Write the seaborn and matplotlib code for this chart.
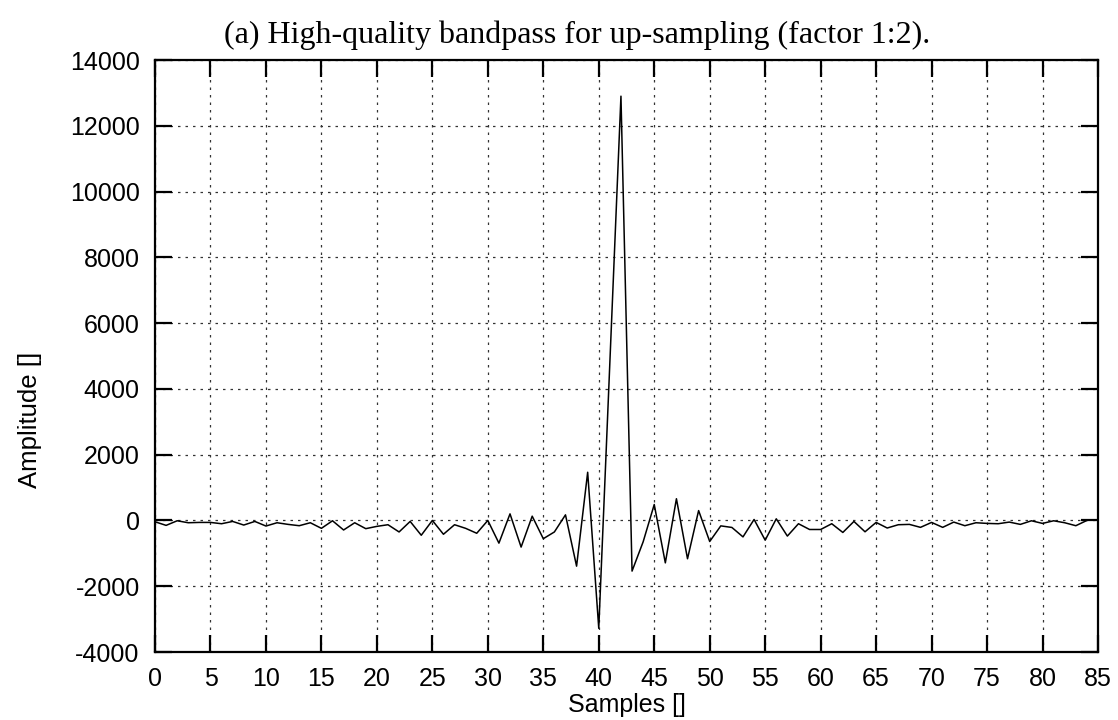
import matplotlib
matplotlib.use("Agg")
import matplotlib.pyplot as plt
import seaborn as sns
import numpy as np
import pandas as pd

samples = list(range(85))
amplitude = [-40, -150, -10, -70, -60, -60, -100, -30, -140, -30,
             -170, -70, -120, -160, -70, -240, -10, -290, -70, -250,
             -180, -130, -350, -30, -450, 0, -420, -130, -240, -390,
             0, -690, 200, -810, 130, -555, -350, 170, -1390, 1465,
             -3280, 4800, 12900, -1540, -650, 485, -1290, 660, -1165, 300,
             -640, -165, -213, -500, 30, -600, 50, -475, -100, -275,
             -275, -100, -365, -30, -345, -60, -230, -130, -120, -210,
             -60, -210, -50, -160, -70, -90, -100, -50, -120, -10,
             -90, -10, -70, -160, 0]
x_ticks = list(range(0, 90, 5))
y_ticks = list(range(-4000, 14001, 2000))
title = "(a) High-quality bandpass for up-sampling (factor 1:2)."
xlabel = "Samples []"
ylabel = "Amplitude []"

sns.set_style("white")
plt.rcParams['font.family'] = ['Liberation Sans', 'DejaVu Sans']
plt.rcParams['axes.unicode_minus'] = False
plt.rcParams['text.color'] = 'black'
plt.rcParams['axes.labelcolor'] = 'black'
plt.rcParams['xtick.color'] = 'black'
plt.rcParams['ytick.color'] = 'black'

df = pd.DataFrame({"x": samples, "y": amplitude})

fig = plt.figure(figsize=(11.18, 7.2), dpi=100)
ax = fig.add_axes([155/1118, 1-652/720, (1098-155)/1118, (652-60)/720])

sns.lineplot(data=df, x="x", y="y", ax=ax, color="black", linewidth=1.1)

ax.set_xlim(0, 85)
ax.set_ylim(-4000, 14000)
ax.set_xticks(x_ticks)
ax.set_yticks(y_ticks)
ax.grid(True, color="#333333", linestyle=(0, (2, 4)), linewidth=0.9)
ax.set_axisbelow(True)
for s in ax.spines.values():
    s.set_linewidth(1.6)
    s.set_color("black")
ax.tick_params(direction="in", length=12, width=1.6, labelsize=18,
               labelcolor="black", colors="black",
               top=True, right=True, bottom=True, left=True, pad=11)
ax.set_xlabel(xlabel, fontsize=18, color="black")
ax.set_ylabel(ylabel, fontsize=18.5, color="black")
ax.xaxis.label.set_va("center")
ax.yaxis.label.set_va("center")
ax.xaxis.set_label_coords(0.5, -(705-652)/592)
ax.yaxis.set_label_coords((30-155)/943, (652-420)/592)
fig.text(577/1118, 1-35/720, title, ha="center", va="center", color="black",
         fontsize=23, family=["Liberation Serif", "DejaVu Serif"])

fig.savefig("out.png", dpi=100)
